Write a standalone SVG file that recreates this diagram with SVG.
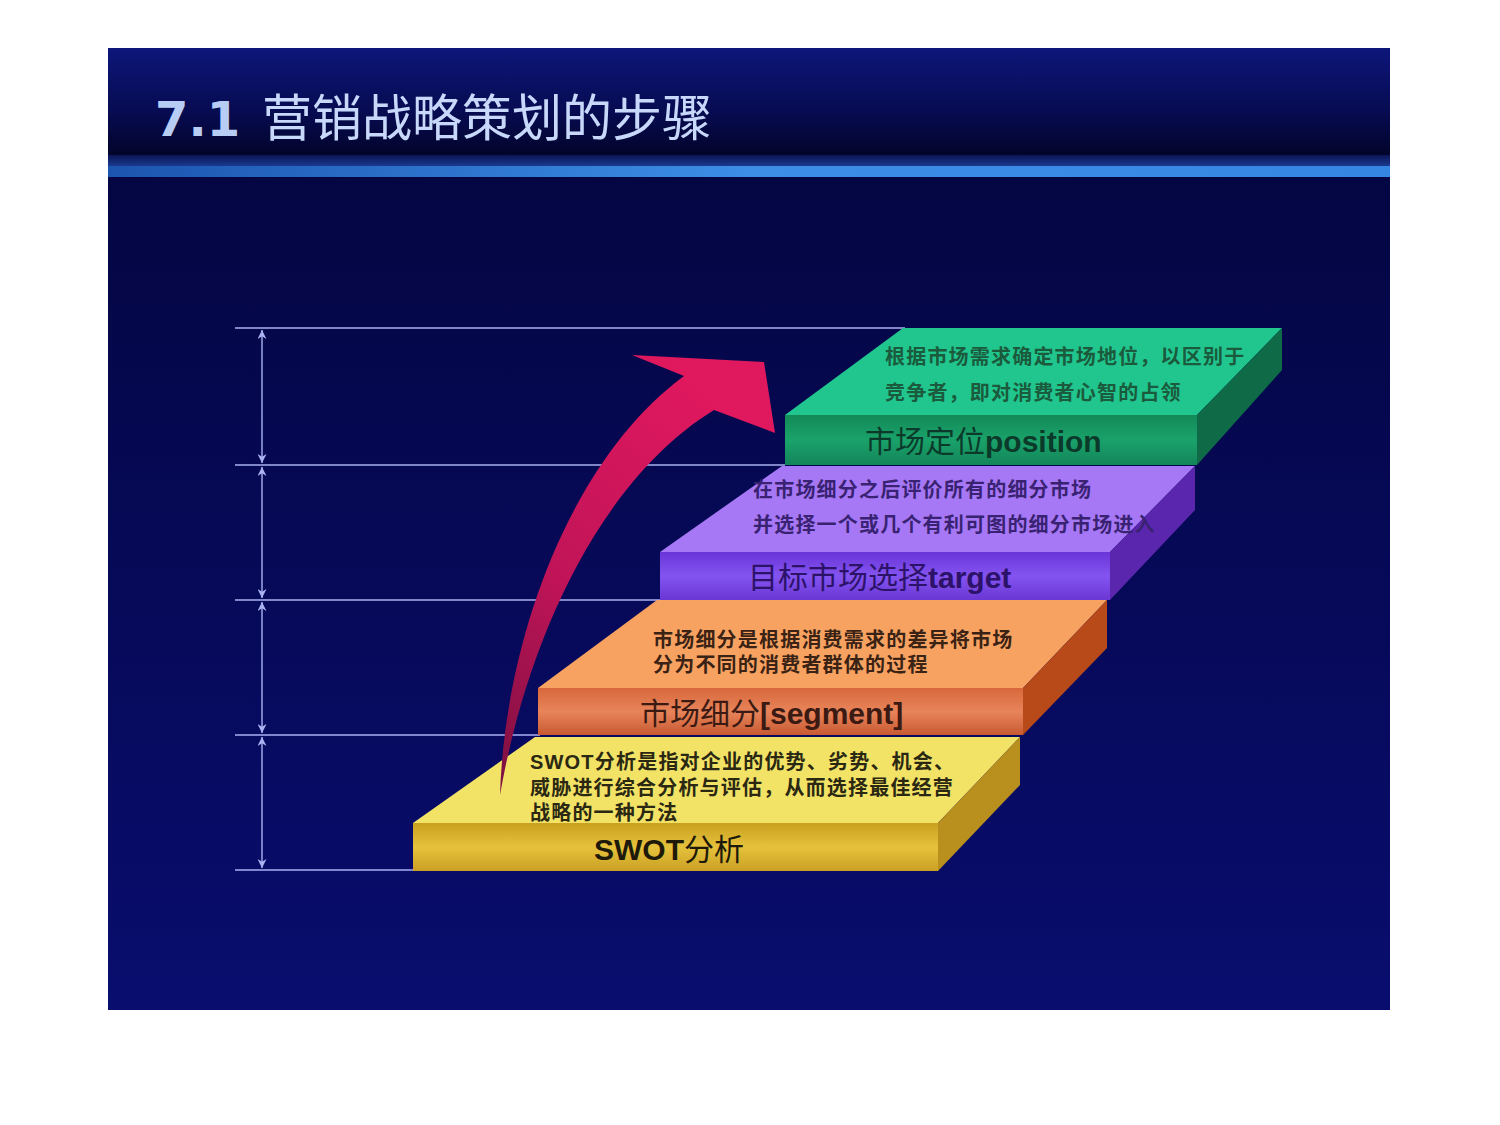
<svg xmlns="http://www.w3.org/2000/svg" width="1500" height="1125" viewBox="0 0 1500 1125">
<defs>
<style>
.guide{stroke:#aab2f2;stroke-width:1.6;fill:none}
.dim{stroke:#aab2f2;stroke-width:1.4;fill:none;marker-start:url(#ah);marker-end:url(#ah)}
.desc{font-family:"Liberation Serif","Noto Sans CJK SC",serif;font-size:20px;font-weight:700;letter-spacing:1.2px}
.lbl{font-family:"Liberation Sans","Noto Sans CJK SC",sans-serif;font-size:30px}
.b{font-weight:700}
</style>
<marker id="ah" viewBox="0 0 10 10" refX="10" refY="5" markerWidth="9" markerHeight="9" orient="auto-start-reverse" markerUnits="userSpaceOnUse">
<path d="M0,0 L10,5 L0,10 L3,5 z" fill="#aab2f2"/>
</marker>
<linearGradient id="bodyG" x1="0" y1="0" x2="0" y2="1">
<stop offset="0" stop-color="#03053c"/>
<stop offset="1" stop-color="#090d6e"/>
</linearGradient>
<linearGradient id="titleG" x1="0" y1="0" x2="0" y2="1">
<stop offset="0" stop-color="#0d167a"/>
<stop offset="0.6" stop-color="#070b50"/>
<stop offset="1" stop-color="#02042a"/>
</linearGradient>
<linearGradient id="stripeG" x1="0" y1="0" x2="1" y2="0">
<stop offset="0" stop-color="#1c55b0"/>
<stop offset="0.5" stop-color="#3c8ee6"/>
<stop offset="1" stop-color="#3486e2"/>
</linearGradient>
<linearGradient id="stripe2G" x1="0" y1="0" x2="0" y2="1">
<stop offset="0" stop-color="#0a1456"/>
<stop offset="1" stop-color="#1a3a8e"/>
</linearGradient>
<linearGradient id="yF" x1="0" y1="0" x2="0" y2="1">
<stop offset="0" stop-color="#c9a020"/>
<stop offset="0.5" stop-color="#e6c23c"/>
<stop offset="1" stop-color="#caa024"/>
</linearGradient>
<linearGradient id="oF" x1="0" y1="0" x2="0" y2="1">
<stop offset="0" stop-color="#d8683c"/>
<stop offset="0.5" stop-color="#e8845a"/>
<stop offset="1" stop-color="#c85a32"/>
</linearGradient>
<linearGradient id="pF" x1="0" y1="0" x2="0" y2="1">
<stop offset="0" stop-color="#6a34d8"/>
<stop offset="0.5" stop-color="#8454f0"/>
<stop offset="1" stop-color="#6a36d4"/>
</linearGradient>
<linearGradient id="gF" x1="0" y1="0" x2="0" y2="1">
<stop offset="0" stop-color="#138a58"/>
<stop offset="0.5" stop-color="#1aa26a"/>
<stop offset="1" stop-color="#13855a"/>
</linearGradient>
<linearGradient id="arrowG" x1="0" y1="1" x2="0.6" y2="0">
<stop offset="0" stop-color="#7a1040"/>
<stop offset="0.45" stop-color="#c01458"/>
<stop offset="1" stop-color="#e0185e"/>
</linearGradient>
</defs>

<rect x="0" y="0" width="1500" height="1125" fill="#ffffff"/>
<rect x="108" y="48" width="1282" height="962" fill="url(#bodyG)"/>
<rect x="108" y="48" width="1282" height="108" fill="url(#titleG)"/>
<rect x="108" y="155" width="1282" height="11" fill="url(#stripe2G)"/>
<rect x="108" y="166" width="1282" height="11" fill="url(#stripeG)"/>

<g id="title">
<text x="155" y="136" font-family="'DejaVu Sans',sans-serif" font-weight="700" font-size="48" fill="#b8cdf4">7.1</text>
<text x="262" y="136" font-family="'Noto Sans CJK SC',sans-serif" font-weight="400" font-size="50" fill="#c8d8fa">营销战略策划的步骤</text>
</g>

<g id="guides">
<line class="guide" x1="235" y1="328" x2="905" y2="328"/>
<line class="guide" x1="235" y1="465" x2="785" y2="465"/>
<line class="guide" x1="235" y1="600" x2="660" y2="600"/>
<line class="guide" x1="235" y1="735" x2="540" y2="735"/>
<line class="guide" x1="235" y1="870" x2="415" y2="870"/>
<line class="dim" x1="262" y1="330" x2="262" y2="463"/>
<line class="dim" x1="262" y1="467" x2="262" y2="598"/>
<line class="dim" x1="262" y1="602" x2="262" y2="733"/>
<line class="dim" x1="262" y1="737" x2="262" y2="868"/>
</g>

<g id="step-swot">
<polygon points="413,823 938,823 1020,737 535,737" fill="#f2e266"/>
<rect x="413" y="823" width="525" height="48" fill="url(#yF)"/>
<polygon points="938,823 1020,737 1020,785 938,871" fill="#b98f1e"/>
<text class="desc" x="530" y="769" fill="#2a2812"><tspan font-family="'Liberation Sans',sans-serif">SWOT</tspan>分析是指对企业的优势、劣势、机会、</text>
<text class="desc" x="530" y="795" fill="#2a2812">威胁进行综合分析与评估，从而选择最佳经营</text>
<text class="desc" x="530" y="820" fill="#2a2812">战略的一种方法</text>
<text class="lbl" x="594" y="860" fill="#1e1a0a"><tspan class="b">SWOT</tspan>分析</text>
</g>

<g id="step-segment">
<polygon points="538,688 1023,688 1107,600 657,600" fill="#f8a262"/>
<rect x="538" y="688" width="485" height="47" fill="url(#oF)"/>
<polygon points="1023,688 1107,600 1107,648 1023,735" fill="#b84a1a"/>
<text class="desc" x="653" y="647" fill="#3a2214">市场细分是根据消费需求的差异将市场</text>
<text class="desc" x="653" y="672" fill="#3a2214">分为不同的消费者群体的过程</text>
<text class="lbl" x="640" y="724" fill="#3a1a12">市场细分<tspan class="b">[segment]</tspan></text>
</g>

<g id="step-target">
<polygon points="660,552 1110,552 1195,466 782,466" fill="#a678f6"/>
<rect x="660" y="552" width="450" height="48" fill="url(#pF)"/>
<polygon points="1110,552 1195,466 1195,510 1110,600" fill="#5a26ae"/>
<text class="desc" x="753" y="497" fill="#3a2272">在市场细分之后评价所有的细分市场</text>
<text class="desc" x="753" y="532" fill="#3a2272">并选择一个或几个有利可图的细分市场进入</text>
<text class="lbl" x="748" y="588" fill="#2c1268">目标市场选择<tspan class="b">target</tspan></text>
</g>

<g id="step-position">
<polygon points="785,415 1197,415 1282,328 903,328" fill="#20c68e"/>
<rect x="785" y="415" width="412" height="50" fill="url(#gF)"/>
<polygon points="1197,415 1282,328 1282,370 1197,465" fill="#0f6a48"/>
<text class="desc" x="885" y="364" fill="#1b5a3c">根据市场需求确定市场地位，以区别于</text>
<text class="desc" x="885" y="400" fill="#1b5a3c">竞争者，即对消费者心智的占领</text>
<text class="lbl" x="865" y="452" fill="#0c3a2a">市场定位<tspan class="b">position</tspan></text>
</g>

<g id="connectors">
<path d="M500,795 C505,640 570,460 684,376 L632,355 L764,362 L775,433 L714,410 C600,480 527,640 500,795 Z" fill="url(#arrowG)"/>
</g>
</svg>
